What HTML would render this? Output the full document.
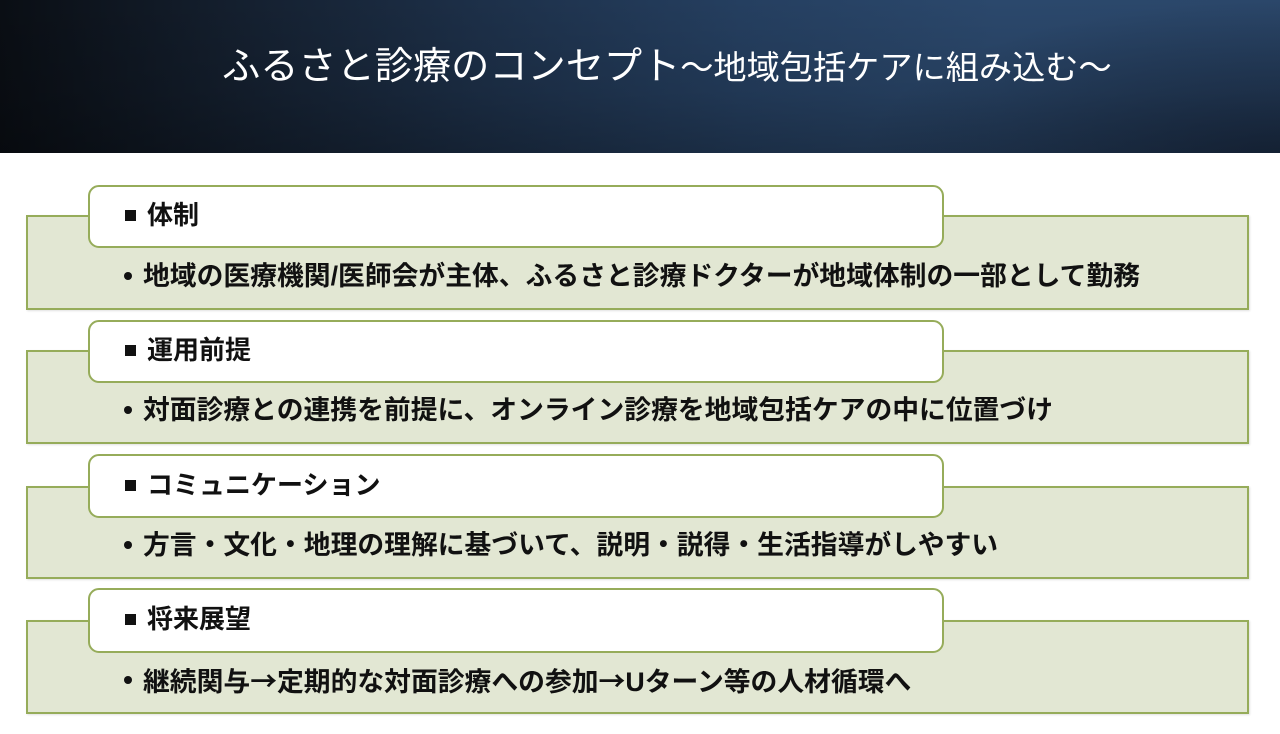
<!DOCTYPE html>
<html lang="ja">
<head>
<meta charset="utf-8">
<style>
  html, body { margin:0; padding:0; }
  body {
    width:1280px; height:734px; position:relative; overflow:hidden;
    background:#ffffff;
    font-family:"Liberation Sans","Noto Sans CJK JP",sans-serif;
  }
  .hdr {
    position:absolute; left:0; top:0; width:1280px; height:153px;
    background:
      radial-gradient(ellipse 420px 160px at 1280px 160px, rgba(10,16,28,0.55), rgba(10,16,28,0) 100%),
      linear-gradient(to bottom, rgba(0,0,0,0) 0%, rgba(0,0,0,0.12) 60%, rgba(0,0,0,0.28) 100%),
      linear-gradient(to right, #0a0e14 0%, #141f2e 18%, #1d3049 38%, #253f60 58%, #2b486c 78%, #2b476a 100%);
  }
  .title {
    position:absolute; left:222px; top:47px; white-space:nowrap;
    color:#ffffff; font-size:38.2px; line-height:40px; font-weight:400;
  }
  .title .s { font-size:33.2px; }
  .outer {
    position:absolute; left:26px; width:1223px; box-sizing:border-box;
    border:2.5px solid #96ac5a; background:#e2e7d3;
    box-shadow:1px 1px 2px rgba(0,0,0,0.12);
  }
  .head {
    position:absolute; left:88px; width:856px; box-sizing:border-box;
    border:2.5px solid #96ac5a; background:#ffffff; border-radius:11px;
  }
  .sq {
    position:absolute; left:125px; width:11px; height:11px; background:#111;
  }
  .htxt {
    position:absolute; left:147px; height:40px; line-height:40px;
    font-size:26px; font-weight:700; color:#111; white-space:nowrap;
  }
  .dot {
    position:absolute; left:124px; width:8px; height:8px; border-radius:50%; background:#111;
  }
  .btxt {
    position:absolute; left:143px; height:40px; line-height:40px;
    font-size:26.8px; font-weight:700; color:#111; white-space:nowrap;
  }
  .ar { font-family:"Noto Sans CJK JP",sans-serif; }
</style>
</head>
<body>
  <div class="hdr"></div>
  <div class="title">ふるさと診療のコンセプト<span class="s">～地域包括ケアに組み込む～</span></div>

  <!-- Section 1 -->
  <div class="outer" style="top:215px;height:95px;"></div>
  <div class="head" style="top:185px;height:63px;"></div>
  <div class="sq" style="top:210px;"></div>
  <div class="htxt" style="top:195px;">体制</div>
  <div class="dot" style="top:272px;"></div>
  <div class="btxt" style="top:256px;">地域の医療機関/医師会が主体、ふるさと診療ドクターが地域体制の一部として勤務</div>

  <!-- Section 2 -->
  <div class="outer" style="top:350px;height:94px;"></div>
  <div class="head" style="top:320px;height:63px;"></div>
  <div class="sq" style="top:345px;"></div>
  <div class="htxt" style="top:330px;">運用前提</div>
  <div class="dot" style="top:406px;"></div>
  <div class="btxt" style="top:390px;">対面診療との連携を前提に、オンライン診療を地域包括ケアの中に位置づけ</div>

  <!-- Section 3 -->
  <div class="outer" style="top:486px;height:93px;"></div>
  <div class="head" style="top:454px;height:64px;"></div>
  <div class="sq" style="top:480px;"></div>
  <div class="htxt" style="top:465px;">コミュニケーション</div>
  <div class="dot" style="top:541px;"></div>
  <div class="btxt" style="top:525px;">方言・文化・地理の理解に基づいて、説明・説得・生活指導がしやすい</div>

  <!-- Section 4 -->
  <div class="outer" style="top:620px;height:94px;"></div>
  <div class="head" style="top:588px;height:65px;"></div>
  <div class="sq" style="top:614px;"></div>
  <div class="htxt" style="top:599px;">将来展望</div>
  <div class="dot" style="top:676px;"></div>
  <div class="btxt" style="top:660px;">継続関与<span class="ar">→</span>定期的な対面診療への参加<span class="ar">→</span>Uターン等の人材循環へ</div>
</body>
</html>
